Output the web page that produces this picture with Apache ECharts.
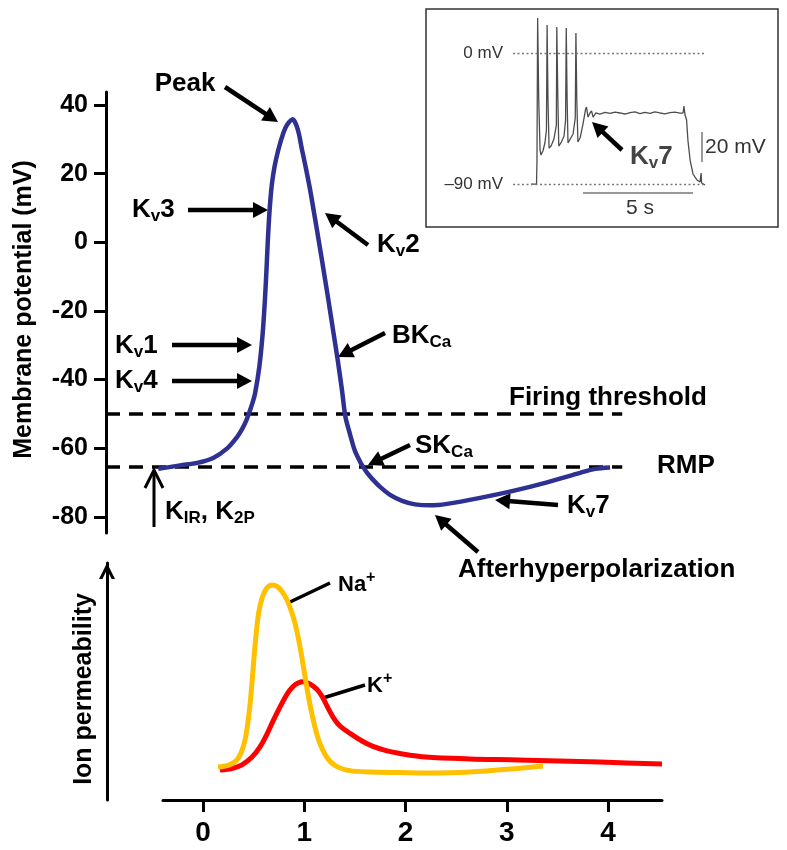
<!DOCTYPE html>
<html><head><meta charset="utf-8">
<script src="https://cdn.jsdelivr.net/npm/echarts@6/dist/echarts.min.js"></script>
<style>html,body{margin:0;padding:0;background:#fff}#c{width:787px;height:850px}</style>
</head><body><div id="c"></div>
<script>
// ---------- data ----------
// action potential (time in ms, membrane potential in mV)
const apTime = [-0.444,-0.227,-0.059,0.099,0.237,0.336,0.380,0.420,0.454,0.484,0.513,0.555,0.588,0.610,0.627,0.639,0.652,0.664,0.680,0.705,0.742,0.792,0.828,0.885,0.920,0.944,0.977,1.012,1.057,1.102,1.146,1.184,1.237,1.288,1.329,1.371,1.405,1.447,1.496,1.551,1.580,1.620,1.679,1.748,1.847,1.965,2.094,2.242,2.410,2.736,3.062,3.398,3.723,3.872,4.020];
const apMv = [-66.02,-65.0,-64.27,-62.82,-60.05,-56.70,-54.66,-52.33,-49.71,-47.09,-43.97,-36.22,-26.50,-16.80,-7.10,0.68,7.47,12.33,17.19,22.03,26.89,31.84,34.17,35.83,34.17,31.84,26.89,22.03,15.24,7.47,-0.28,-7.10,-16.80,-26.50,-34.27,-43.01,-50.79,-55.53,-60.49,-63.98,-65.44,-67.18,-69.22,-71.26,-73.59,-75.34,-76.36,-76.65,-76.21,-74.47,-72.43,-69.95,-67.18,-66.02,-65.58];
const thresholdMv = -50;
const rmpMv = -65.5;
const refLineStart = -0.96;
const refLineEnd = 4.14;
const mvTicks = [-80,-60,-40,-20,0,20,40];

// ion permeability (arbitrary units)
const naTime = [0.148,0.247,0.326,0.375,0.415,0.444,0.469,0.494,0.519,0.548,0.583,0.627,0.679,0.731,0.780,0.830,0.879,0.925,0.975,1.024,1.074,1.139,1.222,1.314,1.452,1.649,1.946,2.202,2.637,3.111,3.358];
const naPerm = [13.9,14.6,16.5,19.8,25.3,32.9,42.2,54.9,67.5,78.5,85.2,89.2,90.7,90.1,88.0,84.4,78.9,71.7,60.5,47.8,36.6,25.7,18.1,14.3,12.4,11.8,11.6,11.4,11.8,13.3,14.3];
const kTime = [0.168,0.286,0.385,0.484,0.563,0.632,0.691,0.760,0.830,0.889,0.938,0.988,1.037,1.086,1.136,1.185,1.235,1.284,1.353,1.452,1.570,1.679,1.817,1.946,2.202,2.637,3.111,3.921,4.533];
const kPerm = [12.7,13.3,14.8,18.1,22.4,27.8,33.3,39.2,44.7,47.9,49.4,49.9,49.4,48.1,46.2,43.0,38.8,35.0,31.2,28.1,24.9,22.6,20.7,19.6,18.1,17.3,16.9,16.0,15.2];
const timeTicks = [0,1,2,3,4];

// inset recording (time in s, mV)
const insetTime = [0.82,1.07,1.09,1.12,1.17,1.23,1.27,1.36,1.45,1.52,1.55,1.59,1.64,1.73,1.86,1.97,1.99,2.04,2.08,2.18,2.32,2.39,2.42,2.46,2.50,2.59,2.73,2.83,2.86,2.90,2.95,3.05,3.18,3.30,3.34,3.41,3.50,3.57,3.64,3.77,3.95,4.18,4.41,4.64,4.86,5.09,5.32,5.55,5.77,6.00,6.23,6.45,6.68,6.91,7.14,7.36,7.59,7.73,7.77,7.82,7.89,7.95,8.05,8.18,8.36,8.50,8.55,8.57,8.73];
const insetMv = [-90,-90,-73.5,24,-32.3,-66.6,-70.1,-67.3,-61.8,-52.9,19.2,-32.3,-65.3,-63.9,-59.1,-49.5,17.9,-32.3,-63.9,-61.8,-57.0,-46.0,17.2,-32.3,-61.8,-60.5,-55.6,-44.7,13.7,-32.3,-61.1,-58.4,-48.8,-38.5,-37.1,-44.0,-41.2,-39.8,-44.0,-41.2,-41.9,-40.8,-41.5,-40.6,-41.2,-41.9,-41.0,-40.5,-41.7,-40.8,-41.4,-40.5,-41.2,-41.8,-41.0,-40.6,-41.3,-41.2,-36.4,-42.6,-46.0,-59.8,-73.5,-83.1,-87.2,-88.6,-82.4,-89.3,-90.7];
const insetTicks = [0,-90];
const insetRefLines = [0,-90];
const insetEnd = 8.727;

// ---------- chart ----------
const FONT = "'Liberation Sans', Arial, sans-serif";
const zip = (a,b) => a.map((v,i)=>[v,b[i]]);

const rich = {
  m:{fontSize:26,fontWeight:'bold',fontFamily:FONT,fill:'#000',lineHeight:30},
  s:{fontSize:17,fontWeight:'bold',fontFamily:FONT,fill:'#000',lineHeight:16,verticalAlign:'bottom'},
  n:{fontSize:22,fontWeight:'bold',fontFamily:FONT,fill:'#000',lineHeight:30},
  p:{fontSize:16,fontWeight:'bold',fontFamily:FONT,fill:'#000',lineHeight:24,verticalAlign:'top'},
  g:{fontSize:26,fontWeight:'bold',fontFamily:FONT,fill:'#444',lineHeight:30},
  gs:{fontSize:17,fontWeight:'bold',fontFamily:FONT,fill:'#444',lineHeight:16,verticalAlign:'bottom'}
};
const labels = [
  ['{m|Peak}',185,84,'center'],
  ['{m|K}{s|v}{m|3}',132,210,'left'],
  ['{m|K}{s|v}{m|2}',377,245,'left'],
  ['{m|K}{s|v}{m|1}',115,346,'left'],
  ['{m|K}{s|v}{m|4}',115,381,'left'],
  ['{m|BK}{s|Ca}',392,336,'left'],
  ['{m|Firing threshold}',509,398,'left'],
  ['{m|SK}{s|Ca}',415,446,'left'],
  ['{m|RMP}',657,466,'left'],
  ['{m|K}{s|v}{m|7}',567,506,'left'],
  ['{m|Afterhyperpolarization}',458,570,'left'],
  ['{m|K}{s|IR}{m|, K}{s|2P}',165,512,'left'],
  ['{n|Na}{p|+}',338,585,'left'],
  ['{n|K}{p|+}',367,686,'left'],
  ['{g|K}{gs|v}{g|7}',630,157,'left']
];
const arrows = [
  [225,87,278,122],[188,210,268,210],[368,245,325,213],[172,345,252,345],[172,381,252,381],
  [385,333,338,357],[410,445,368,465],[558,505,495,500],[478,552,435,515],[622,150,592,122]
];
const leaders = [[290,602,330,583],[323,698,365,685]];

const graphic = [];
graphic.push({type:'rect',shape:{x:426,y:9,width:352,height:218},style:{fill:'none',stroke:'#333',lineWidth:1.5},silent:true});
graphic.push({type:'line',shape:{x1:702,y1:132,x2:702,y2:162},style:{stroke:'#777',lineWidth:1.5},silent:true});
graphic.push({type:'line',shape:{x1:583,y1:193,x2:693,y2:193},style:{stroke:'#777',lineWidth:1.5},silent:true});
graphic.push({type:'text',x:705,y:147,style:{text:'20 mV',fontSize:21,fontFamily:FONT,fill:'#333',align:'left',verticalAlign:'middle'},silent:true});
graphic.push({type:'text',x:640,y:208,style:{text:'5 s',fontSize:21,fontFamily:FONT,fill:'#333',align:'center',verticalAlign:'middle'},silent:true});
labels.forEach(l=>{
  graphic.push({type:'text',x:l[1],y:l[2],style:{text:l[0],rich:rich,align:l[3],verticalAlign:'middle'},silent:true});
});
arrows.forEach(a=>{
  const [x1,y1,x2,y2]=a; const L=15, W=16;
  const dx=x2-x1, dy=y2-y1, len=Math.hypot(dx,dy), ux=dx/len, uy=dy/len;
  const bx=x2-ux*L, by=y2-uy*L, px=-uy, py=ux;
  graphic.push({type:'line',shape:{x1:x1,y1:y1,x2:bx+ux*2,y2:by+uy*2},style:{stroke:'#000',lineWidth:4.5},silent:true});
  graphic.push({type:'polygon',shape:{points:[[x2,y2],[bx+px*W/2,by+py*W/2],[bx-px*W/2,by-py*W/2]]},style:{fill:'#000'},silent:true});
});
leaders.forEach(a=>{
  graphic.push({type:'line',shape:{x1:a[0],y1:a[1],x2:a[2],y2:a[3]},style:{stroke:'#000',lineWidth:3.5},silent:true});
});
// K_IR / K_2P open arrow
graphic.push({type:'line',shape:{x1:154,y1:527,x2:154,y2:471},style:{stroke:'#000',lineWidth:3},silent:true});
graphic.push({type:'polyline',shape:{points:[[145,488],[154,470],[163,488]]},style:{stroke:'#000',lineWidth:3,fill:null},silent:true});

const chart = echarts.init(document.getElementById('c'));
chart.setOption({
  animation:false,
  backgroundColor:'#fff',
  grid:[
    {left:106,width:556,top:92,height:441},
    {left:163,width:499,top:563,height:237},
    {left:513,width:192,top:16.6,height:182}
  ],
  xAxis:[
    {gridIndex:0,type:'value',min:-0.96,max:4.533,show:false},
    {gridIndex:1,type:'value',min:-0.395,max:4.533,
      axisLine:{show:true,onZero:false,lineStyle:{color:'#000',width:3}},
      axisTick:{show:true,length:12,lineStyle:{color:'#000',width:3},customValues:timeTicks},
      axisLabel:{customValues:timeTicks,fontSize:28,fontWeight:'bold',fontFamily:FONT,color:'#000',margin:19},
      splitLine:{show:false}},
    {gridIndex:2,type:'value',min:0,max:insetEnd,show:false}
  ],
  yAxis:[
    {gridIndex:0,type:'value',min:-84.7,max:43.8,
      name:'Membrane potential (mV)',nameLocation:'middle',nameGap:69,nameRotate:90,
      nameTextStyle:{fontSize:25,fontWeight:'bold',fontFamily:FONT,color:'#000',padding:[0,0,0,6]},
      axisLine:{show:true,onZero:false,lineStyle:{color:'#000',width:3}},
      axisTick:{show:true,length:12,lineStyle:{color:'#000',width:3},customValues:mvTicks},
      axisLabel:{customValues:mvTicks,fontSize:25,fontWeight:'bold',fontFamily:FONT,color:'#000',margin:18},
      splitLine:{show:false}},
    {gridIndex:1,type:'value',min:0,max:100,offset:56,
      name:'Ion permeability',nameLocation:'middle',nameGap:10,nameRotate:90,
      nameTextStyle:{fontSize:25,fontWeight:'bold',fontFamily:FONT,color:'#000',padding:[0,15,0,0]},
      axisLine:{show:true,onZero:false,symbol:['none','path://M0,16 L8,0 L16,16 L12.6,16 L8,6.8 L3.4,16 Z'],symbolSize:[16,16],symbolOffset:[0,-8],lineStyle:{color:'#000',width:3}},
      axisTick:{show:false},axisLabel:{show:false},splitLine:{show:false}},
    {gridIndex:2,type:'value',min:-100,max:25,
      axisLine:{show:false,onZero:false},axisTick:{show:false},splitLine:{show:false},
      axisLabel:{customValues:insetTicks,formatter:v=>(v===0?'0 mV':'\u201390 mV'),fontSize:17,fontFamily:FONT,color:'#333',margin:10}}
  ],
  series:[
    {type:'line',xAxisIndex:0,yAxisIndex:0,data:zip(apTime,apMv),symbol:'none',smooth:0.3,
      lineStyle:{color:'#2E3192',width:4.5},z:3,
      markLine:{silent:true,symbol:'none',label:{show:false},lineStyle:{color:'#000',width:3.5,type:[14,9]},z:2,
        data:[[{coord:[refLineStart,thresholdMv]},{coord:[refLineEnd,thresholdMv]}],
              [{coord:[refLineStart,rmpMv]},{coord:[refLineEnd,rmpMv]}]]}},
    {type:'line',xAxisIndex:1,yAxisIndex:1,data:zip(kTime,kPerm),symbol:'none',smooth:0.3,
      lineStyle:{color:'#FF0000',width:5}},
    {type:'line',xAxisIndex:1,yAxisIndex:1,data:zip(naTime,naPerm),symbol:'none',smooth:0.3,
      lineStyle:{color:'#FFC000',width:5}},
    {type:'line',xAxisIndex:2,yAxisIndex:2,data:zip(insetTime,insetMv),symbol:'none',
      lineStyle:{color:'#4d4d4d',width:1.3},
      markLine:{silent:true,symbol:'none',label:{show:false},lineStyle:{color:'#777',width:1.3,type:[2,2.5]},
        data:insetRefLines.map(v=>[{coord:[0,v]},{coord:[insetEnd,v]}])}}
  ],
  graphic:graphic
});
</script></body></html>
